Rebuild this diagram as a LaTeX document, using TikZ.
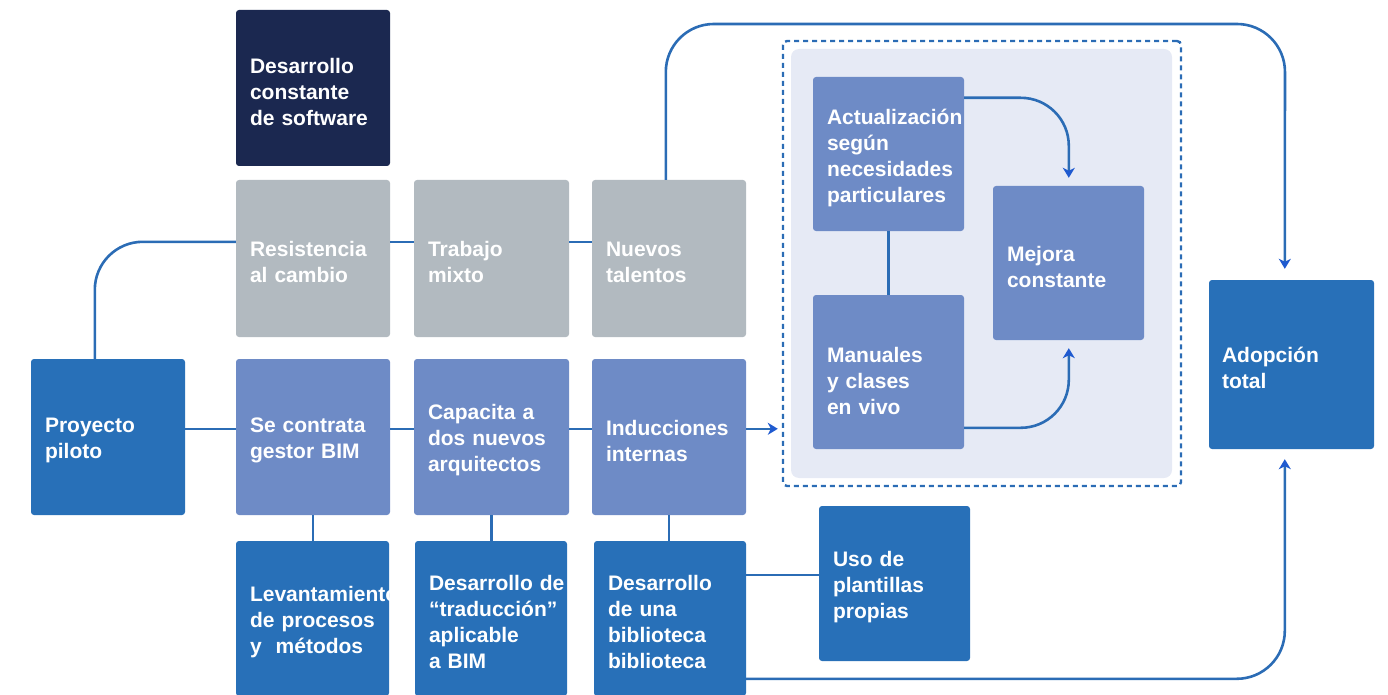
\documentclass[tikz,border=0pt]{standalone}
\usepackage{fontspec}
\setmainfont{Liberation Sans}
\usetikzlibrary{calc,arrows.meta}
\definecolor{navy}{HTML}{1B2850}
\definecolor{greybox}{HTML}{B2BAC0}
\definecolor{midblue}{HTML}{2870B8}
\definecolor{peri}{HTML}{6E8BC6}
\definecolor{panel}{HTML}{E6EAF5}
\definecolor{linec}{HTML}{2B6CB5}
\definecolor{tipc}{HTML}{1F5AD0}
\tikzset{
  box/.style={rectangle, rounded corners=3pt, inner sep=0pt},
  lab/.style={text=white, align=left, inner sep=0pt, yshift=-3.5pt,
    font=\fontsize{21}{26}\selectfont\bfseries},
  conn/.style={draw=linec, line width=2.6pt},
  arr/.style={conn, -{Stealth[length=10pt,width=12pt,inset=3pt,color=tipc]}},
}
\begin{document}
\hyphenpenalty=10000
\exhyphenpenalty=10000
\begin{tikzpicture}[x=1pt,y=-1pt]
\useasboundingbox (0,0) rectangle (1388,695);
% dashed group and panel
\node[draw=linec, line width=2.4pt, dash pattern=on 5pt off 4pt, rounded corners=4pt,
  minimum width=398pt, minimum height=445pt, inner sep=0pt] (dbox) at (982,263.5) {};
\node[fill=panel, rounded corners=8pt, minimum width=381pt, minimum height=429pt, inner sep=0pt] (pan) at (981.5,263.5) {};
% boxes
\node[box, fill=navy, minimum width=154pt, minimum height=156pt,
  label={[lab, text width=126pt]center:{Desarrollo\\constante\\de software}}] (des) at (313,88) {};
\node[box, fill=greybox, minimum width=154pt, minimum height=157pt,
  label={[lab, text width=126pt]center:{Resistencia\\al cambio}}] (res) at (313,258.5) {};
\node[box, fill=greybox, minimum width=155pt, minimum height=157pt,
  label={[lab, text width=127pt]center:{Trabajo\\mixto}}] (tra) at (491.5,258.5) {};
\node[box, fill=greybox, minimum width=154pt, minimum height=157pt,
  label={[lab, text width=126pt]center:{Nuevos\\talentos}}] (nue) at (669,258.5) {};
\node[box, fill=midblue, minimum width=154pt, minimum height=156pt,
  label={[lab, text width=126pt]center:{Proyecto\\piloto}}] (pp) at (108,437) {};
\node[box, fill=peri, minimum width=154pt, minimum height=156pt,
  label={[lab, text width=126pt]center:{Se contrata\\gestor BIM}}] (se) at (313,437) {};
\node[box, fill=peri, minimum width=155pt, minimum height=156pt,
  label={[lab, text width=127pt]center:{Capacita a\\dos nuevos\\arquitectos}}] (cap) at (491.5,437) {};
\node[box, fill=peri, minimum width=154pt, minimum height=156pt,
  label={[lab, text width=126pt]center:{Inducciones\\internas}}] (ind) at (669,437) {};
\node[box, fill=midblue, minimum width=153pt, minimum height=155pt,
  label={[lab, text width=125pt]center:{Levantamiento\\de procesos\\y~ métodos}}] (lev) at (312.5,618.5) {};
\node[box, fill=midblue, minimum width=152pt, minimum height=155pt,
  label={[lab, text width=124pt]center:{Desarrollo~de\\“traducción”\\aplicable\\a BIM}}] (trad) at (491,618.5) {};
\node[box, fill=midblue, minimum width=152pt, minimum height=155pt,
  label={[lab, text width=124pt]center:{Desarrollo\\de una\\biblioteca\\biblioteca}}] (bib) at (670,618.5) {};
\node[box, fill=midblue, minimum width=151pt, minimum height=155pt,
  label={[lab, text width=123pt]center:{Uso de\\plantillas\\propias}}] (uso) at (894.5,583.5) {};
\node[box, fill=peri, minimum width=151pt, minimum height=154pt,
  label={[lab, text width=123pt]center:{Actualización\\según\\necesidades\\particulares}}] (act) at (888.5,154) {};
\node[box, fill=peri, minimum width=151pt, minimum height=154pt,
  label={[lab, text width=123pt, yshift=-5pt]center:{Manuales\\y clases\\en vivo}}] (man) at (888.5,372) {};
\node[box, fill=peri, minimum width=151pt, minimum height=154pt,
  label={[lab, text width=123pt]center:{Mejora\\constante}}] (mej) at (1068.5,263) {};
\node[box, fill=midblue, minimum width=165pt, minimum height=169pt,
  label={[lab, text width=139pt]center:{Adopción\\total}}] (ado) at (1291.5,364.5) {};
% connectors
\coordinate (tr) at (1285,24);
\draw[conn, rounded corners=48pt] ($(pp.north west)+(64,0)$) |- ($(res.north west)+(0,62)$);
\draw[conn] ($(res.north east)+(0,62)$) -- ($(tra.north west)+(0,62)$);
\draw[conn] ($(tra.north east)+(0,62)$) -- ($(nue.north west)+(0,62)$);
\draw[arr, rounded corners=48pt] ($(nue.north west)+(74,0)$) |- (tr) -- ($(ado.north west)+(76,-11)$);
\draw[conn] ($(pp.north east)+(0,70)$) -- ($(se.north west)+(0,70)$);
\draw[conn] ($(se.north east)+(0,70)$) -- ($(cap.north west)+(0,70)$);
\draw[conn] ($(cap.north east)+(0,70)$) -- ($(ind.north west)+(0,70)$);
\coordinate (i1) at ($(ind.north east)+(0,70)$);
\draw[arr, shorten >=4pt] (i1) -- (i1 -| dbox.west);
\draw[conn] (se.south) -- (se.south |- lev.north);
\draw[conn] (cap.south) -- (cap.south |- trad.north);
\draw[conn] (ind.south) -- (ind.south |- bib.north);
\draw[conn] ($(bib.north east)+(0,34)$) -- ($(uso.north west)+(0,69)$);
\draw[arr, rounded corners=48pt] ($(bib.north east)+(0,138)$) -| ($(ado.south west)+(76,10)$);
\draw[arr, rounded corners=48pt] ($(act.north east)+(0,21)$) -| ($(mej.north west)+(76,-8)$);
\draw[arr, rounded corners=48pt] ($(man.north east)+(0,133)$) -| ($(mej.south west)+(76,8)$);
\draw[conn] (act.south) -- (man.north);
\end{tikzpicture}
\end{document}
